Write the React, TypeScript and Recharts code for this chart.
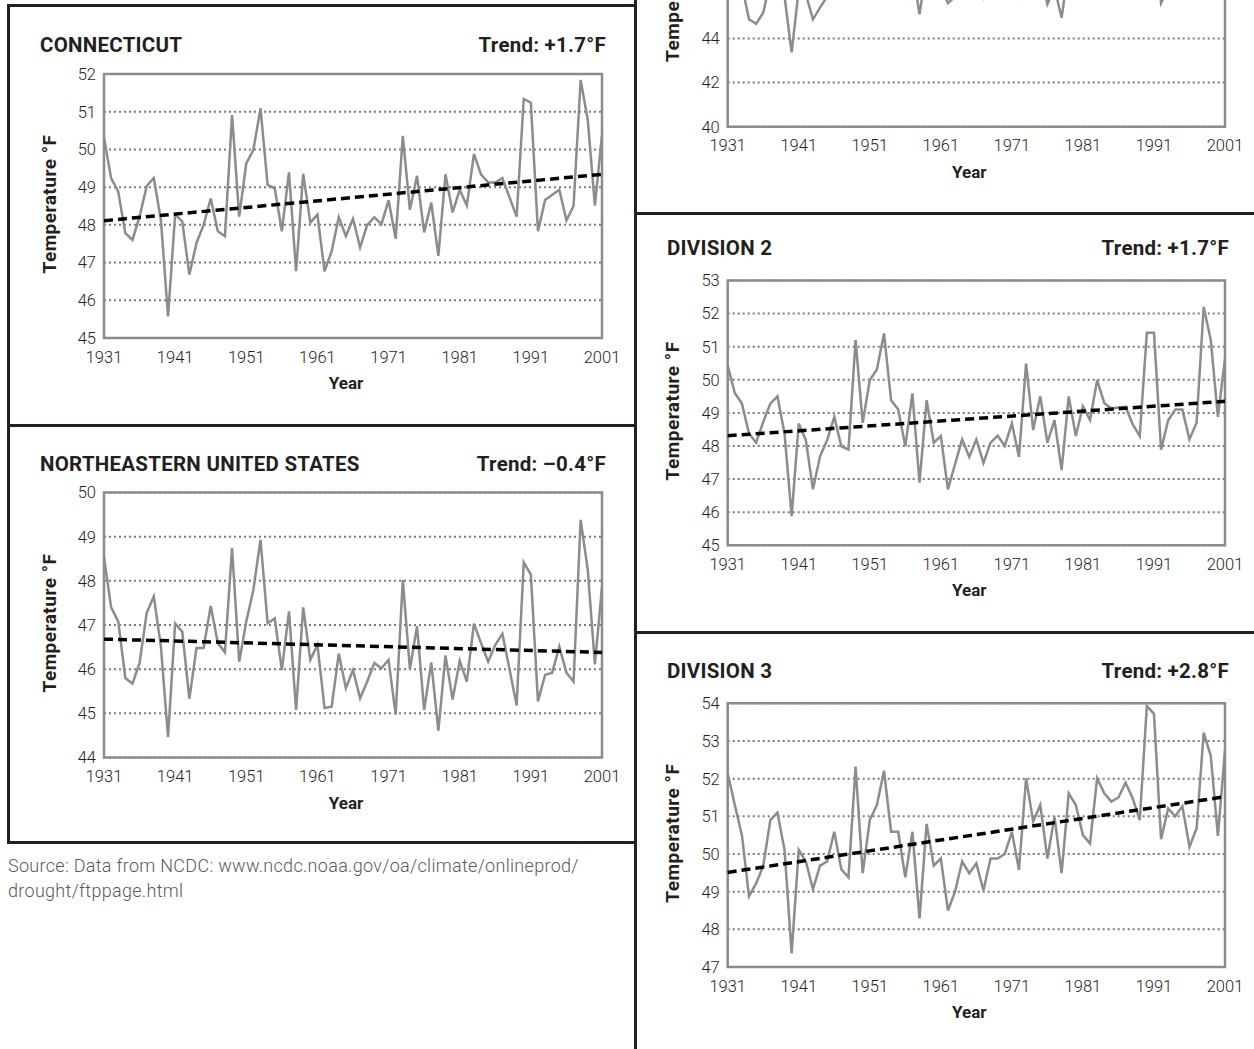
import React from 'react';
import { LineChart, Line, XAxis, YAxis, CartesianGrid, ReferenceArea, ReferenceLine, Label } from 'recharts';

const FONT = 'Roboto, "Noto Sans", sans-serif';
const INK = '#231f20';

const years: number[] = Array.from({ length: 71 }, (_, i) => 1931 + i);
const xTicks = [1931, 1941, 1951, 1961, 1971, 1981, 1991, 2001];

const ctValues = [
  50.32, 49.24, 48.88, 47.78, 47.6, 48.22, 49.03, 49.24, 48.13, 45.57,
  48.27, 48.09, 46.68, 47.52, 48.0, 48.7, 47.83, 47.7, 50.91, 48.22,
  49.63, 49.99, 51.09, 49.06, 48.97, 47.83, 49.39, 46.77, 49.35, 48.06,
  48.27, 46.77, 47.3, 48.2, 47.7, 48.16, 47.4, 48.0, 48.2, 48.02,
  48.65, 47.63, 50.36, 48.4, 49.3, 47.8, 48.59, 47.18, 49.34, 48.33,
  48.93, 48.51, 49.88, 49.33, 49.13, 49.12, 49.24, 48.73, 48.22, 51.34,
  51.24, 47.83, 48.66, 48.8, 48.93, 48.12, 48.5, 51.84, 50.78, 48.51,
  50.38,
];
const neValues = [
  48.54, 47.4, 47.08, 45.8, 45.67, 46.14, 47.27, 47.65, 46.51, 44.46,
  47.03, 46.85, 45.33, 46.48, 46.48, 47.43, 46.59, 46.38, 48.74, 46.17,
  47.08, 47.8, 48.93, 47.04, 47.15, 45.98, 47.31, 45.08, 47.4, 46.21,
  46.55, 45.12, 45.15, 46.35, 45.57, 45.98, 45.34, 45.72, 46.14, 46.02,
  46.21, 44.97, 48.02, 46.0, 46.97, 45.08, 46.15, 44.61, 46.31, 45.31,
  46.19, 45.72, 47.03, 46.59, 46.17, 46.55, 46.8, 46.0, 45.18, 48.42,
  48.14, 45.27, 45.87, 45.92, 46.51, 45.92, 45.72, 49.38, 48.25, 46.11,
  47.86,
];
const d1Values = [
  48.3, 47.2, 46.4, 44.87, 44.67, 45.17, 46.6, 46.9, 45.9, 43.37,
  46.2, 46.0, 44.87, 45.4, 45.9, 46.5, 46.0, 45.9, 48.6, 46.1,
  47.3, 47.8, 48.8, 46.9, 46.8, 45.9, 47.1, 45.1, 47.2, 46.0,
  46.3, 45.6, 45.9, 46.4, 45.9, 46.3, 45.8, 46.1, 46.3, 46.0,
  46.6, 45.9, 48.2, 46.3, 47.0, 45.55, 46.3, 44.94, 47.2, 46.0,
  46.9, 46.3, 47.6, 46.9, 46.6, 46.7, 46.8, 46.2, 45.9, 48.9,
  48.8, 45.6, 46.3, 46.6, 46.6, 45.9, 46.2, 49.6, 48.6, 46.3,
  48.0,
];
const d2Values = [
  50.44, 49.6, 49.28, 48.38, 48.1, 48.73, 49.28, 49.5, 48.38, 45.88,
  48.68, 48.18, 46.69, 47.69, 48.18, 48.88, 47.99, 47.89, 51.2, 48.7,
  49.99, 50.31, 51.4, 49.38, 49.1, 47.99, 49.59, 46.89, 49.38, 48.1,
  48.3, 46.69, 47.45, 48.2, 47.67, 48.2, 47.49, 48.1, 48.31, 48.0,
  48.68, 47.67, 50.49, 48.48, 49.5, 48.1, 48.78, 47.27, 49.5, 48.3,
  49.2, 48.78, 49.99, 49.3, 49.13, 49.16, 49.18, 48.66, 48.3, 51.42,
  51.42, 47.89, 48.78, 49.1, 49.1, 48.2, 48.7, 52.2, 51.2, 48.88,
  50.64,
];
const d3Values = [
  52.14, 51.3, 50.5, 48.88, 49.22, 49.68, 50.9, 51.1, 50.11, 47.36,
  50.11, 49.8, 49.07, 49.69, 49.8, 50.59, 49.59, 49.38, 52.32, 49.49,
  50.9, 51.3, 52.21, 50.59, 50.59, 49.38, 50.59, 48.29, 50.8, 49.69,
  49.88, 48.5, 49.0, 49.8, 49.49, 49.75, 49.03, 49.88, 49.88, 50.0,
  50.59, 49.58, 52.01, 50.86, 51.3, 49.88, 50.99, 49.49, 51.61, 51.3,
  50.5, 50.28, 52.01, 51.61, 51.39, 51.5, 51.89, 51.48, 50.9, 53.93,
  53.72, 50.39, 51.21, 51.0, 51.27, 50.19, 50.68, 53.22, 52.6, 50.48,
  52.76,
];

const ctTicks = [45, 46, 47, 48, 49, 50, 51, 52];
const neTicks = [44, 45, 46, 47, 48, 49, 50];
const d1Ticks = [40, 42, 44, 46, 48, 50, 52];
const d2Ticks = [45, 46, 47, 48, 49, 50, 51, 52, 53];
const d3Ticks = [47, 48, 49, 50, 51, 52, 53, 54];

const ctTrend = [48.11, 49.34];
const neTrend = [46.68, 46.38];
const d1Trend = [46.4, 47.2];
const d2Trend = [48.31, 49.35];
const d3Trend = [49.51, 51.52];

type Cfg = {
  left: number; top: number; width: number; height: number;
  plot: { left: number; top: number; right: number; bottom: number };
  ticks: number[]; values: number[]; trend: number[];
  title?: string; trendText?: string; titleY?: number;
};

const panels: Cfg[] = [
  { left: 8, top: 5, width: 627, height: 420, plot: { left: 104, top: 74, right: 602, bottom: 338 },
    ticks: ctTicks, values: ctValues, trend: ctTrend, title: 'CONNECTICUT', trendText: 'Trend: +1.7°F', titleY: 45 },
  { left: 8, top: 425, width: 627, height: 418, plot: { left: 104, top: 492.5, right: 602, bottom: 757.5 },
    ticks: neTicks, values: neValues, trend: neTrend, title: 'NORTHEASTERN UNITED STATES', trendText: 'Trend: –0.4°F', titleY: 464 },
  { left: 635, top: -206, width: 619, height: 419, plot: { left: 727.7, top: -138, right: 1225, bottom: 126.7 },
    ticks: d1Ticks, values: d1Values, trend: d1Trend },
  { left: 635, top: 213, width: 619, height: 419, plot: { left: 727.7, top: 280.5, right: 1225, bottom: 545.3 },
    ticks: d2Ticks, values: d2Values, trend: d2Trend, title: 'DIVISION 2', trendText: 'Trend: +1.7°F', titleY: 248 },
  { left: 635, top: 632, width: 619, height: 417, plot: { left: 727.7, top: 703.3, right: 1225, bottom: 967 },
    ticks: d3Ticks, values: d3Values, trend: d3Trend, title: 'DIVISION 3', trendText: 'Trend: +2.8°F', titleY: 671 },
];

const tickStyle = { fill: INK, fontSize: 16.5, fontFamily: FONT, fontWeight: 300 };

function Panel({ cfg }: { cfg: Cfg }) {
  const { left, top, width, height, plot, ticks, values, trend } = cfg;
  const data = years.map((year, i) => ({ year, temp: values[i] }));
  const domain = [ticks[0], ticks[ticks.length - 1]];
  const margin = { top: plot.top - top, right: left + width - plot.right, bottom: 0, left: 0 };
  const yW = plot.left - left;
  const xH = top + height - plot.bottom;
  const cx = (plot.left + plot.right) / 2 - left - 7;
  const cy = (plot.top + plot.bottom) / 2 - top - 2;
  const lx = plot.left - left - 55;
  return (
    <div style={{ position: 'absolute', left, top, width, height }}>
      <LineChart width={width} height={height} data={data} margin={margin}>
        <CartesianGrid vertical={false} stroke="#7a7a7a" strokeDasharray="2 3" strokeWidth={2} />
        <XAxis dataKey="year" type="number" domain={[1931, 2001]} ticks={xTicks} interval={0} height={xH}
          tickLine={false} axisLine={false} tickSize={0} tickMargin={13} tick={tickStyle}>
          <Label content={() => (
            <text x={cx} y={plot.bottom - top + 45} textAnchor="middle" dominantBaseline="central"
              fontFamily={FONT} fontWeight={700} fontSize={17} fill={INK}>Year</text>
          )} />
        </XAxis>
        <YAxis type="number" domain={domain} ticks={ticks} interval={0} width={yW}
          tickLine={false} axisLine={false} tickSize={0} tickMargin={8} tick={tickStyle}>
          <Label content={() => (
            <text x={lx} y={cy} transform={`rotate(-90 ${lx} ${cy})`} textAnchor="middle" dominantBaseline="central"
              fontFamily={FONT} fontWeight={700} fontSize={19} letterSpacing={0.5} fill={INK}>Temperature °F</text>
          )} />
        </YAxis>
        <ReferenceArea x1={1931} x2={2001} y1={domain[0]} y2={domain[1]} fill="none" fillOpacity={0}
          stroke="#8c8c8c" strokeWidth={2.5} />
        <Line dataKey="temp" type="linear" stroke="#8c8c8c" strokeWidth={2.5} dot={false} activeDot={false}
          isAnimationActive={false} />
        <ReferenceLine segment={[{ x: 1931, y: trend[0] }, { x: 2001, y: trend[1] }]} stroke="#000"
          strokeWidth={3.5} strokeDasharray="9 5" />
      </LineChart>
    </div>
  );
}

function Titles({ cfg }: { cfg: Cfg }) {
  if (!cfg.title) return null;
  const base: React.CSSProperties = {
    position: 'absolute', top: (cfg.titleY as number) - 14, height: 28, lineHeight: '28px',
    fontFamily: FONT, fontWeight: 700, fontSize: 20.5, letterSpacing: 0.25, color: INK, whiteSpace: 'nowrap',
  };
  return (
    <>
      <div style={{ ...base, left: cfg.left + 32 }}>{cfg.title}</div>
      <div style={{ ...base, left: cfg.plot.right - 300, width: 304, textAlign: 'right' }}>{cfg.trendText}</div>
    </>
  );
}

const bar = (left: number, top: number, width: number, height: number): React.CSSProperties => ({
  position: 'absolute', left, top, width, height, background: INK,
});

export default function App() {
  return (
    <div style={{ position: 'absolute', left: 0, top: 0, width: 1254, height: 1049, overflow: 'hidden', background: '#fff' }}>
      {panels.map((p, i) => <Panel key={i} cfg={p} />)}
      {panels.map((p, i) => <Titles key={'t' + i} cfg={p} />)}
      <div style={bar(7, 4, 630, 3)} />
      <div style={bar(7, 4, 3, 840)} />
      <div style={bar(7, 424, 630, 3)} />
      <div style={bar(7, 841, 630, 3)} />
      <div style={bar(634, 0, 3, 1049)} />
      <div style={bar(634, 212, 620, 3)} />
      <div style={bar(634, 631, 620, 3)} />
      <div style={{ position: 'absolute', left: 8, top: 853, width: 620, fontFamily: FONT, fontWeight: 300,
        fontSize: 18, letterSpacing: 0.3, lineHeight: '25px', color: '#58595b' }}>
        Source: Data from NCDC: www.ncdc.noaa.gov/oa/climate/onlineprod/<br />drought/ftppage.html
      </div>
    </div>
  );
}
